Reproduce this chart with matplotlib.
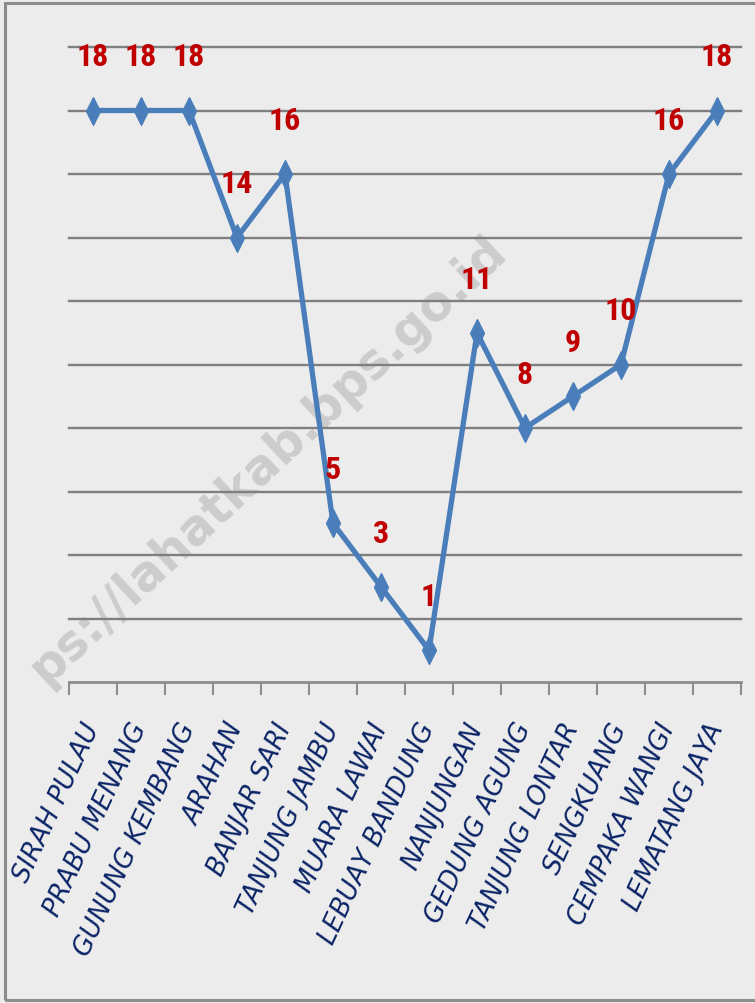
import os
import matplotlib
matplotlib.use("Agg")
import matplotlib.pyplot as plt
from matplotlib.patches import Rectangle
from matplotlib import font_manager
from matplotlib.font_manager import FontProperties

categories = ["SIRAH PULAU", "PRABU MENANG", "GUNUNG KEMBANG", "ARAHAN", "BANJAR SARI",
              "TANJUNG JAMBU", "MUARA LAWAI", "LEBUAY BANDUNG", "NANJUNGAN", "GEDUNG AGUNG",
              "TANJUNG LONTAR", "SENGKUANG", "CEMPAKA WANGI", "LEMATANG JAYA"]
values = [18, 18, 18, 14, 16, 5, 3, 1, 11, 8, 9, 10, 16, 18]
y_max = 20
grid_step = 2


def find_file(candidates):
    """candidates: list of (family name, style, bold?, condensed?)"""
    entries = font_manager.fontManager.ttflist
    for name, style, bold, cond in candidates:
        for f in entries:
            base = os.path.basename(f.fname).lower()
            is_cond = ("condensed" in base or "narrow" in base or f.stretch in ("condensed", "semi-condensed"))
            w = f.weight if isinstance(f.weight, int) else {"bold": 700, "normal": 400}.get(f.weight, 400)
            if (f.name == name and f.style == style and is_cond == cond
                    and ((w >= 600) == bold) and "light" not in base and "black" not in base
                    and "medium" not in base and "semibold" not in base):
                return f.fname
    return None


def props(candidates, fallback):
    path = find_file(candidates)
    return FontProperties(fname=path) if path else FontProperties(**fallback)


tick_fp = props([("DejaVu Sans", "oblique", False, False), ("DejaVu Sans", "italic", False, False)],
                dict(family="DejaVu Sans", style="italic"))
mark_fp = props([("DejaVu Sans", "normal", True, False)], dict(family="DejaVu Sans", weight="bold"))
value_fp = props([("Roboto Condensed", "normal", True, True), ("DejaVu Sans", "normal", True, True),
                  ("Liberation Sans Narrow", "normal", True, True), ("Liberation Sans", "normal", True, False)],
                 dict(family="Liberation Sans", weight="bold"))

W, H, DPI = 755, 1004, 100
fig = plt.figure(figsize=(W / DPI, H / DPI), dpi=DPI)
fig.patch.set_facecolor("#ECECEC")

# outer frame
fig.patches.append(Rectangle((5 / W, 3 / H), 1.05, (H - 7) / H, transform=fig.transFigure,
                             fill=False, edgecolor="#8C8C8C", linewidth=2.2, zorder=0))

# watermark
fig.text(0.07, 0.31, "ps://lahatkab.bps.go.id", rotation=43, fontproperties=mark_fp, fontsize=35,
         color="#8A8A8A", alpha=0.32, ha="left", va="bottom", rotation_mode="anchor", zorder=-1)

ax_left, ax_right = 69, 741
ax_bottom, ax_top = 683, 48
ax = fig.add_axes([ax_left / W, 1 - ax_bottom / H, (ax_right - ax_left) / W, (ax_bottom - ax_top) / H])
ax.set_facecolor("none")

x = list(range(len(categories)))
ax.set_xlim(-0.5, len(categories) - 0.5)
ax.set_ylim(0, y_max)

for yv in range(grid_step, y_max + 1, grid_step):
    ax.axhline(yv, color="#7F7F7F", linewidth=1.7, zorder=1, clip_on=False)

diamond = [(0, 1), (0.5, 0), (0, -1), (-0.5, 0), (0, 1)]
ax.plot(x, values, color="#4A7EBB", linewidth=3.8, marker=diamond, markersize=20,
        markerfacecolor="#4A7EBB", markeredgecolor="#4A7EBB", zorder=3, solid_joinstyle="miter")

for xi, v in zip(x, values):
    ax.annotate(str(v), (xi, v), xytext=(0, 39), textcoords="offset points", ha="center",
                va="center", color="#C00000", fontproperties=value_fp, fontsize=23, zorder=4)

for s in ["top", "left", "right"]:
    ax.spines[s].set_visible(False)
ax.spines["bottom"].set_color("#8C8C8C")
ax.spines["bottom"].set_linewidth(2.0)
ax.set_yticks([])
ax.set_xticks(x)
ax.set_xticklabels(categories, rotation=65, ha="right", va="center", rotation_mode="anchor",
                   fontproperties=tick_fp, fontsize=18.5, color="#0A2466")
ax.tick_params(axis="x", which="major", length=0, pad=30)
ax.set_xticks([i - 0.5 for i in range(len(categories) + 1)], minor=True)
ax.tick_params(axis="x", which="minor", length=9, width=1.5, color="#8C8C8C")

fig.savefig("out.png", dpi=DPI, facecolor=fig.get_facecolor())
